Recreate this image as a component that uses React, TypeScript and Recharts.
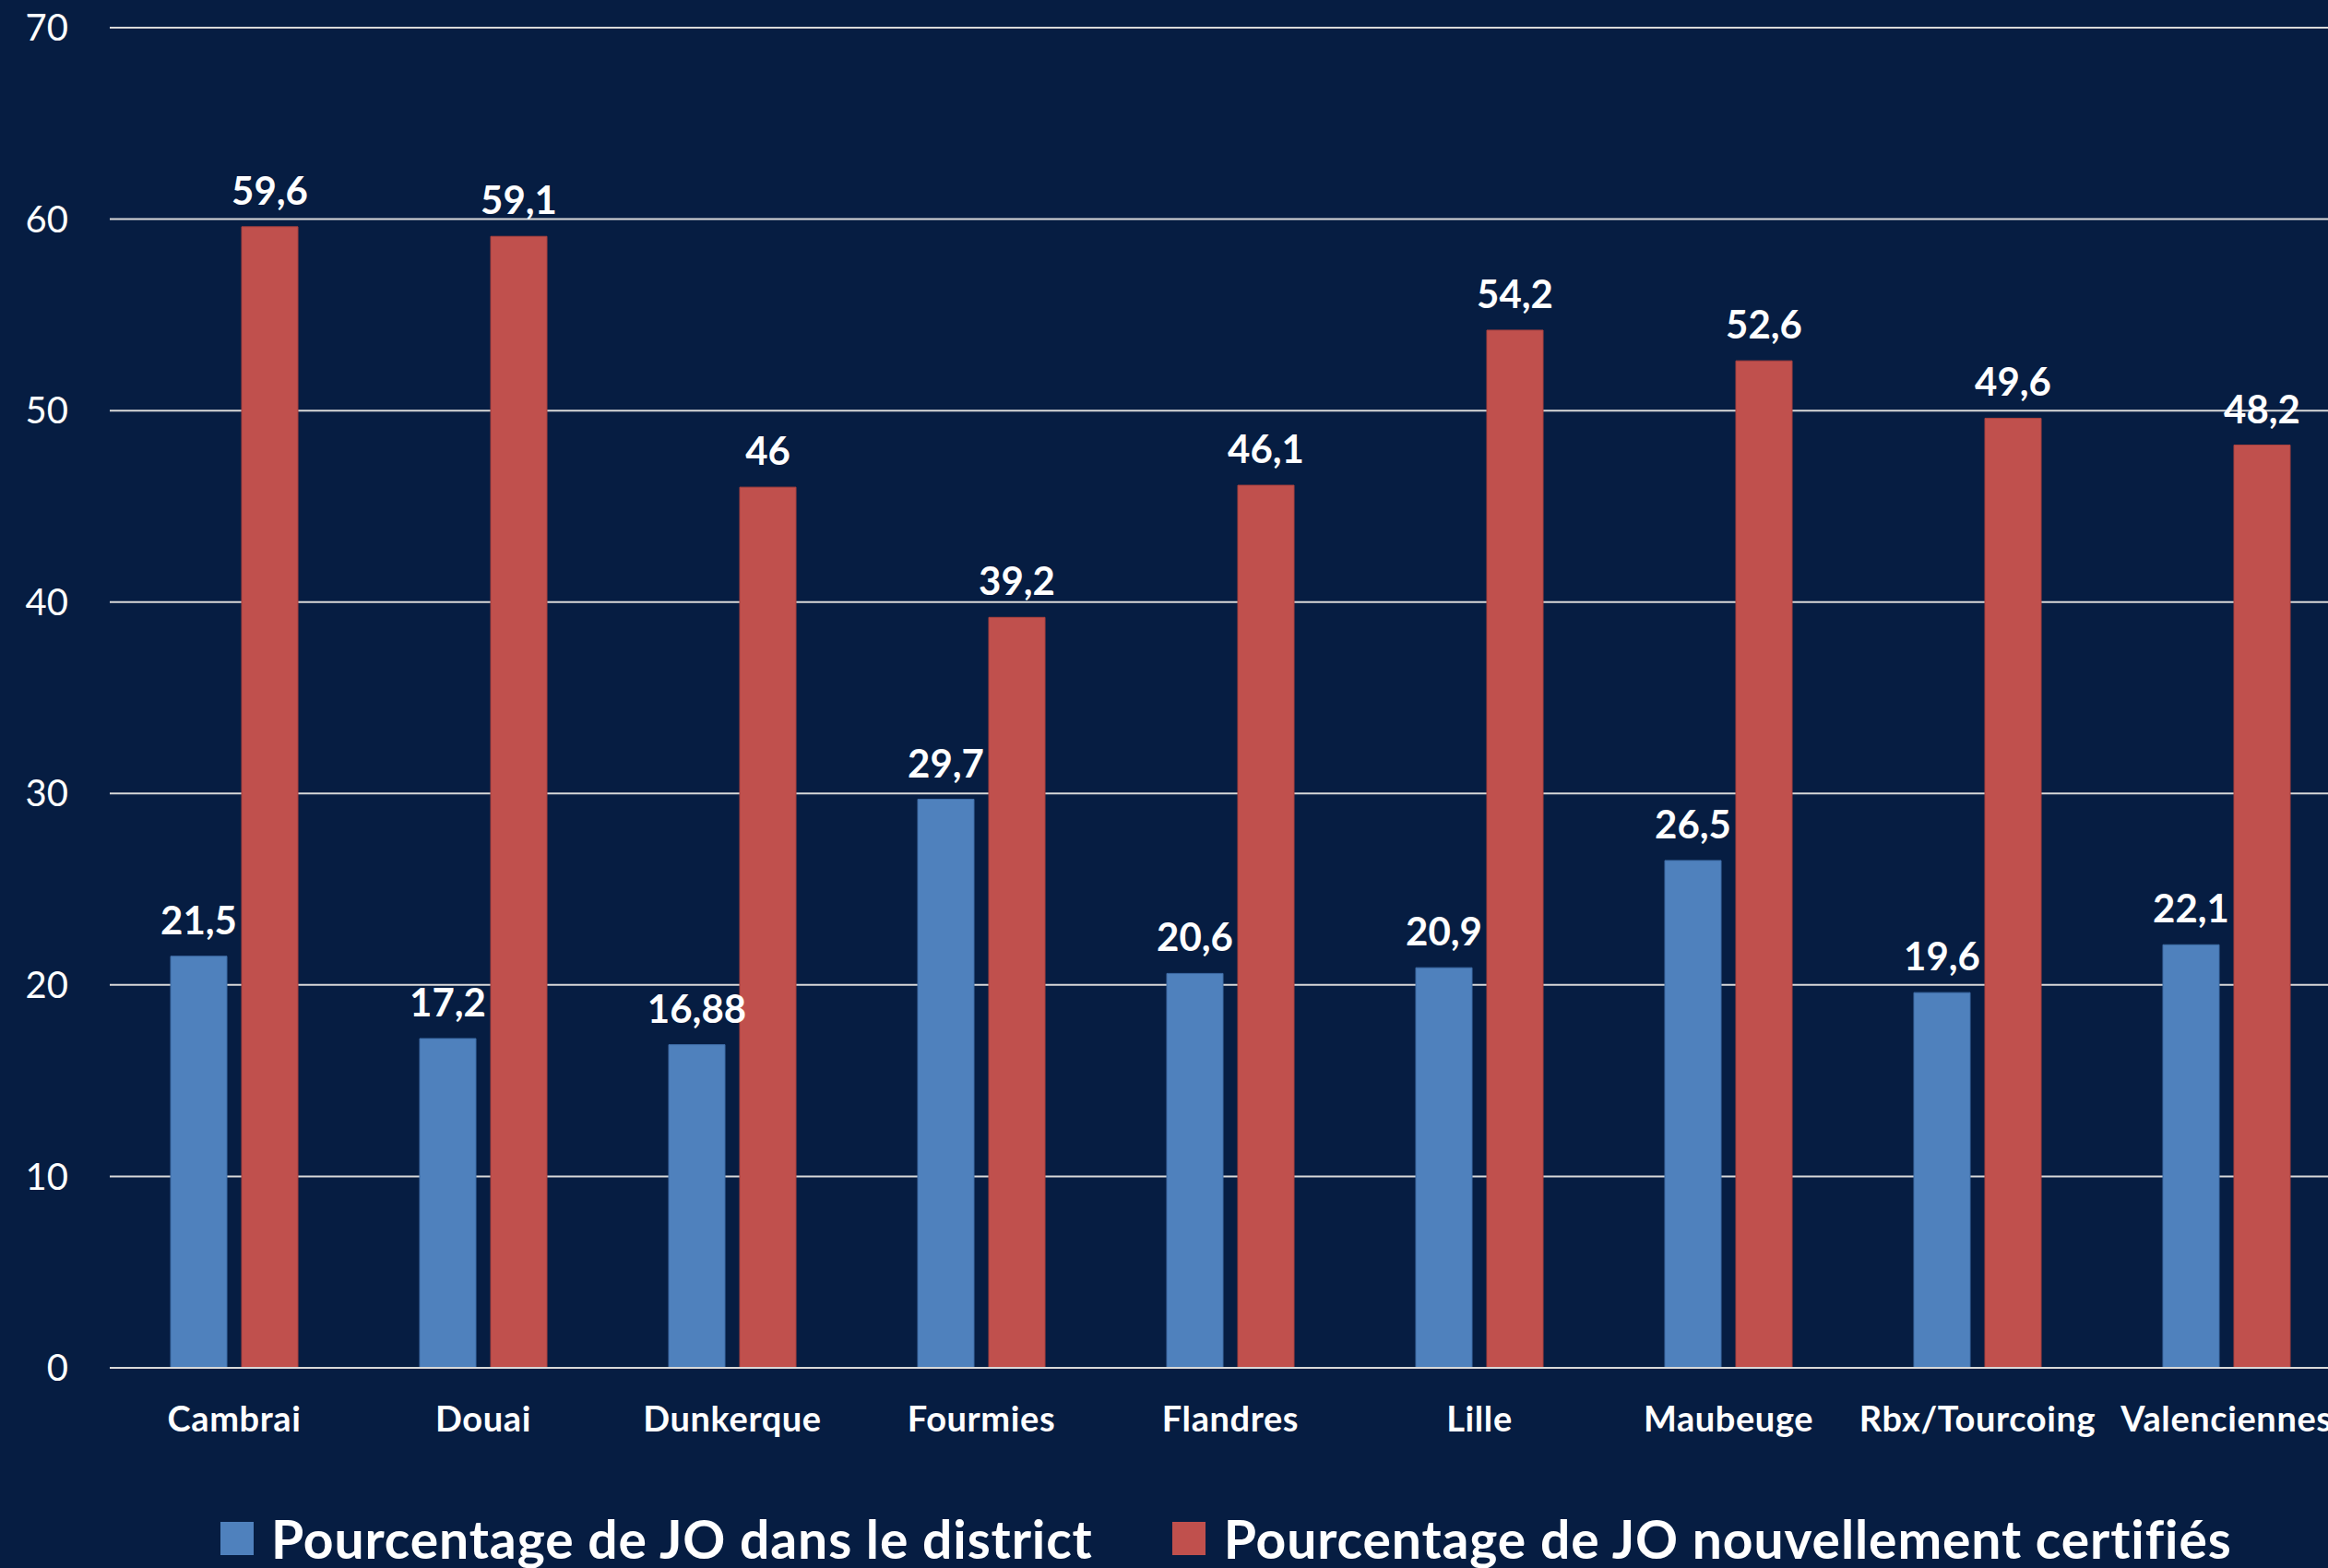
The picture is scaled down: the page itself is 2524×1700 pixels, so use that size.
import React from 'react';
import { BarChart, Bar, XAxis, YAxis, CartesianGrid, LabelList, Legend } from 'recharts';

const districts = [
  'Cambrai',
  'Douai',
  'Dunkerque',
  'Fourmies',
  'Flandres',
  'Lille',
  'Maubeuge',
  'Rbx/Tourcoing',
  'Valenciennes',
];
const inDistrict = [21.5, 17.2, 16.88, 29.7, 20.6, 20.9, 26.5, 19.6, 22.1];
const newlyCertified = [59.6, 59.1, 46, 39.2, 46.1, 54.2, 52.6, 49.6, 48.2];
const yTicks = [0, 10, 20, 30, 40, 50, 60, 70];

const seriesNames = {
  inDistrict: 'Pourcentage de JO dans le district',
  newlyCertified: 'Pourcentage de JO nouvellement certifiés',
};

const BG = '#061D42';
const BLUE = '#4F81BD';
const RED = '#C0504D';
const GRID = '#D9D9D9';
const FONT = 'Lato, "Open Sans", sans-serif';

const data = districts.map((name, i) => ({
  name,
  inDistrict: inDistrict[i],
  newlyCertified: newlyCertified[i],
}));

const frNumber = (v: any) => String(v).replace('.', ',');

const LegendContent = () => (
  <div
    style={{
      display: 'flex',
      alignItems: 'center',
      paddingLeft: 239,
      fontFamily: FONT,
      fontWeight: 700,
      fontSize: 57,
      letterSpacing: 0.9,
      color: '#FFFFFF',
      lineHeight: '56px',
      whiteSpace: 'nowrap',
    }}
  >
    <span style={{ width: 36, height: 36, background: BLUE, display: 'inline-block', marginRight: 19 }} />
    <span>{seriesNames.inDistrict}</span>
    <span style={{ width: 36, height: 36, background: RED, display: 'inline-block', marginLeft: 86, marginRight: 20 }} />
    <span>{seriesNames.newlyCertified}</span>
  </div>
);

export default function App() {
  return (
    <div
      style={{
        position: 'absolute',
        left: 0,
        top: 0,
        width: 2524,
        height: 1700,
        overflow: 'hidden',
        background: BG,
      }}
    >
      <BarChart
        width={2570}
        height={1700}
        data={data}
        margin={{ top: 30, right: 21, bottom: 101, left: 0 }}
        barCategoryGap={66}
        barGap={16}
      >
        <CartesianGrid vertical={false} stroke={GRID} strokeWidth={2} />
        <XAxis
          dataKey="name"
          interval={0}
          tickLine={false}
          tickSize={0}
          tickMargin={42}
          axisLine={{ stroke: GRID, strokeWidth: 2 }}
          height={60}
          tick={{ fill: '#FFFFFF', fontSize: 38, fontWeight: 700, fontFamily: FONT, letterSpacing: 0.6 }}
        />
        <YAxis
          width={119}
          domain={[0, 70]}
          ticks={yTicks}
          interval={0}
          axisLine={false}
          tickLine={false}
          tickSize={0}
          tickMargin={45}
          tick={{ fill: '#FFFFFF', fontSize: 40, fontWeight: 400, fontFamily: FONT }}
        />
        <Legend
          content={<LegendContent />}
          wrapperStyle={{ position: 'absolute', left: 0, top: 1640, width: 2524 }}
        />
        <Bar dataKey="inDistrict" name={seriesNames.inDistrict} fill={BLUE} stroke="#3E6CA6" strokeWidth={1} isAnimationActive={false}>
          <LabelList
            dataKey="inDistrict"
            position="top"
            offset={24}
            formatter={frNumber}
            style={{ fill: '#FFFFFF', fontSize: 42, fontWeight: 700, fontFamily: FONT }}
          />
        </Bar>
        <Bar dataKey="newlyCertified" name={seriesNames.newlyCertified} fill={RED} stroke="#A9413F" strokeWidth={1} isAnimationActive={false}>
          <LabelList
            dataKey="newlyCertified"
            position="top"
            offset={24}
            formatter={frNumber}
            style={{ fill: '#FFFFFF', fontSize: 42, fontWeight: 700, fontFamily: FONT }}
          />
        </Bar>
      </BarChart>
    </div>
  );
}
